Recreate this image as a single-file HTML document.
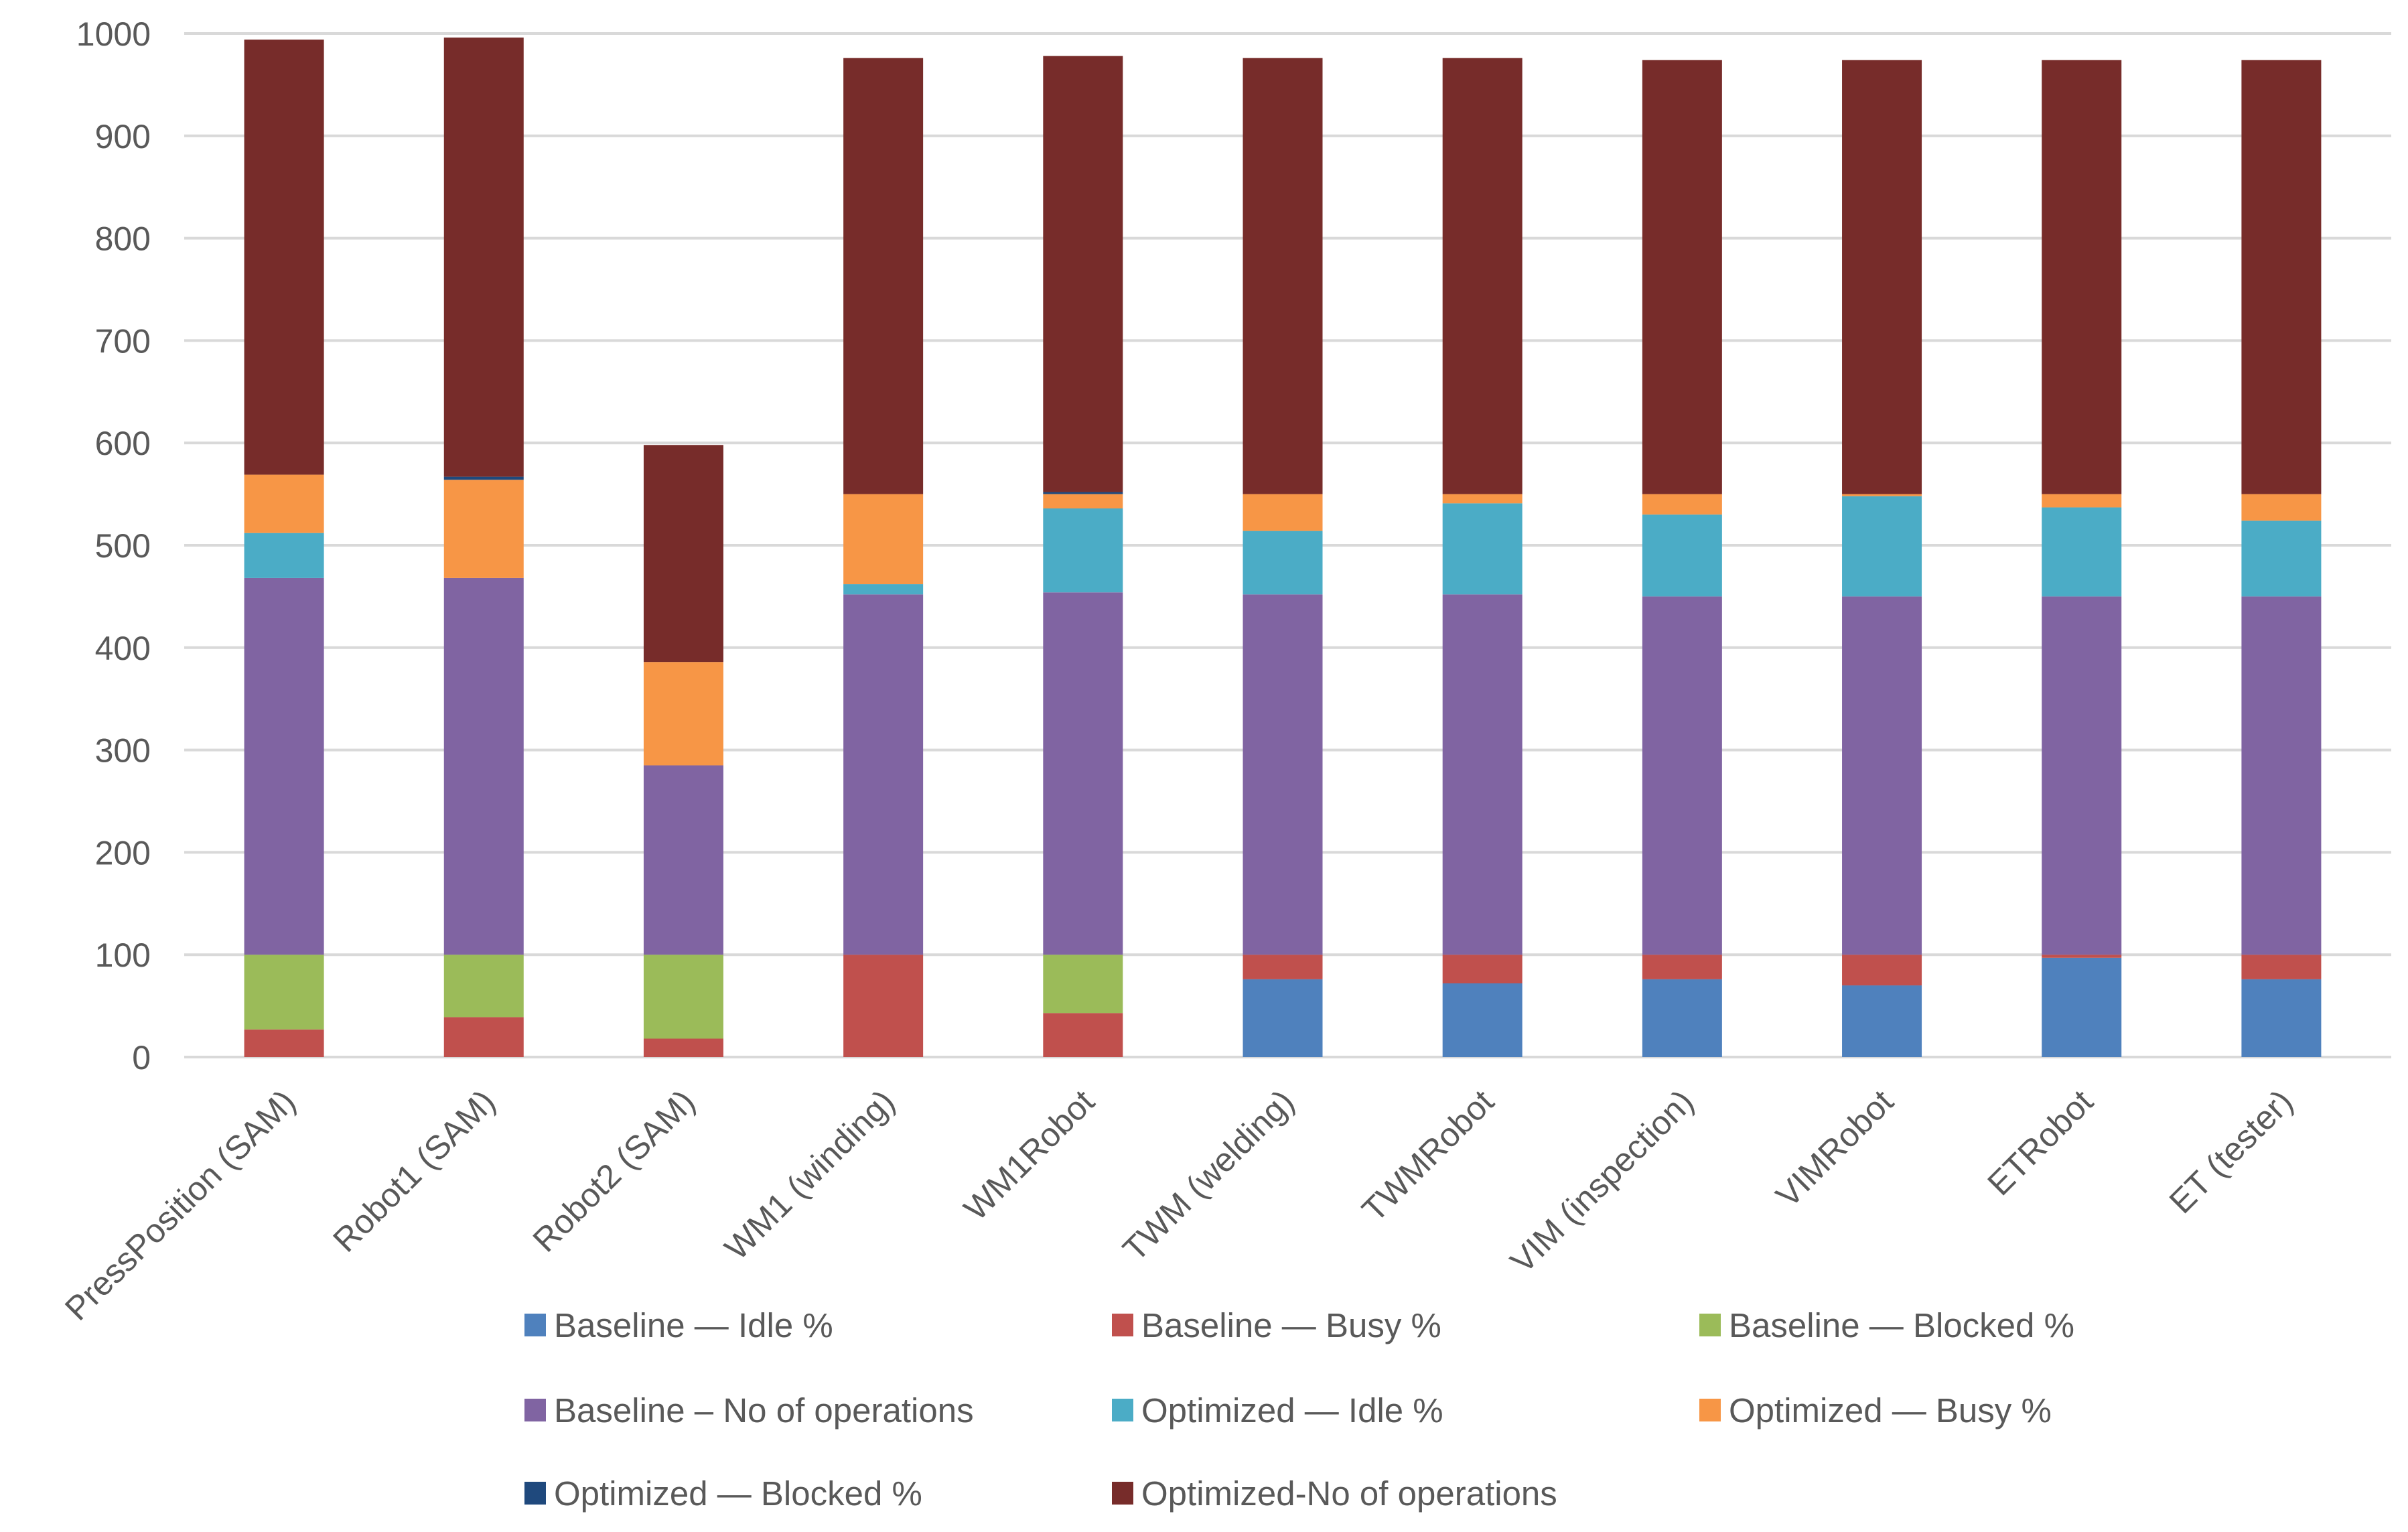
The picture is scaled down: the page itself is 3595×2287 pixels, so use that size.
<!DOCTYPE html>
<html><head><meta charset="utf-8"><style>
html,body{margin:0;padding:0;background:#fff;}
svg{display:block;font-family:"Liberation Sans",sans-serif;}
</style></head><body>
<svg id="chart" width="3595" height="2287" viewBox="0 0 3595 2287" xmlns="http://www.w3.org/2000/svg">
<g id="grid"></g>
<g id="yticks"></g>
<g id="bars"></g>
<g id="xlabels"></g>
<g id="legend"></g>
</svg>
<script>
const categories = ["PressPosition (SAM)","Robot1 (SAM)","Robot2 (SAM)","WM1 (winding)","WM1Robot","TWM (welding)","TWMRobot","VIM (inspection)","VIMRobot","ETRobot","ET (tester)"];
const seriesNames = ["Baseline — Idle %","Baseline — Busy %","Baseline — Blocked %","Baseline – No of operations","Optimized — Idle %","Optimized — Busy %","Optimized — Blocked %","Optimized-No of operations"];
const seriesColors = ["#4F81BD","#C0504D","#9BBB59","#8064A2","#4BACC6","#F79646","#1F497D","#772C2A"];
const baseIdle    = [0,0,0,0,0,76,72,76,70,97,76];
const baseBusy    = [27,39,18,100,43,24,28,24,30,3,24];
const baseBlocked = [73,61,82,0,57,0,0,0,0,0,0];
const baseOps     = [368,368,185,352,354,352,352,350,350,350,350];
const optIdle     = [44,0,0,10,82,62,89,80,98,87,74];
const optBusy     = [57,96,101,88,14,36,9,20,2,13,26];
const optBlocked  = [0,3,0,0,2,0,0,0,0,0,0];
const optOps      = [425,429,212,426,426,426,426,424,424,424,424];
const yTicks = [0,100,200,300,400,500,600,700,800,900,1000];

const series = [baseIdle,baseBusy,baseBlocked,baseOps,optIdle,optBusy,optBlocked,optOps];
const NS="http://www.w3.org/2000/svg";
const plotL=275, plotR=3555, plotT=50, plotB=1578, yMax=1000, gridR=3570;
const step=(plotR-plotL)/categories.length, barW=119;
const y=v=>plotB-(v/yMax)*(plotB-plotT);
const xc=i=>plotL+step*(i+0.5);
function mk(tag,attrs,parent){const e=document.createElementNS(NS,tag);for(const k in attrs)e.setAttribute(k,attrs[k]);parent.appendChild(e);return e;}

const grid=document.getElementById('grid'), yt=document.getElementById('yticks');
yTicks.forEach(t=>{
  const l=mk('line',{x1:plotL,x2:gridR,y1:y(t),y2:y(t),stroke:'#D9D9D9','stroke-width':4},grid);
  
  
  const tx=mk('text',{x:225,y:y(t)+18,'text-anchor':'end','font-size':50,fill:'#595959'},yt);
  tx.textContent=t;
  
  
});

const bars=document.getElementById('bars');
categories.forEach((c,i)=>{
  let acc=0;
  series.forEach((s,k)=>{
    const v=s[i]; if(v<=0){return;}
    const r=mk('rect',{x:xc(i)-barW/2,y:y(acc+v),width:barW,height:y(acc)-y(acc+v),fill:seriesColors[k]},bars);
    
    
    acc+=v;
  });
});

const xl=document.getElementById('xlabels');
categories.forEach((c,i)=>{
  const t=mk('text',{transform:`translate(${xc(i)+20},${plotB+70}) rotate(-45)`,'text-anchor':'end','font-size':50,fill:'#595959'},xl);
  t.textContent=c;
  
  
});

const lg=document.getElementById('legend');
const colX=[783,1660,2537], rowY=[1978,2105,2229];
seriesNames.forEach((n,k)=>{
  const cx=colX[k%3], cy=rowY[Math.floor(k/3)];
  const g=mk('g',{},lg);
  
  
  mk('rect',{x:cx,y:cy-17,width:32,height:34,fill:seriesColors[k]},g);
  const t=mk('text',{x:cx+44,y:cy+18,'font-size':51,fill:'#595959'},g);
  t.textContent=n;
});
</script>
</body></html>
